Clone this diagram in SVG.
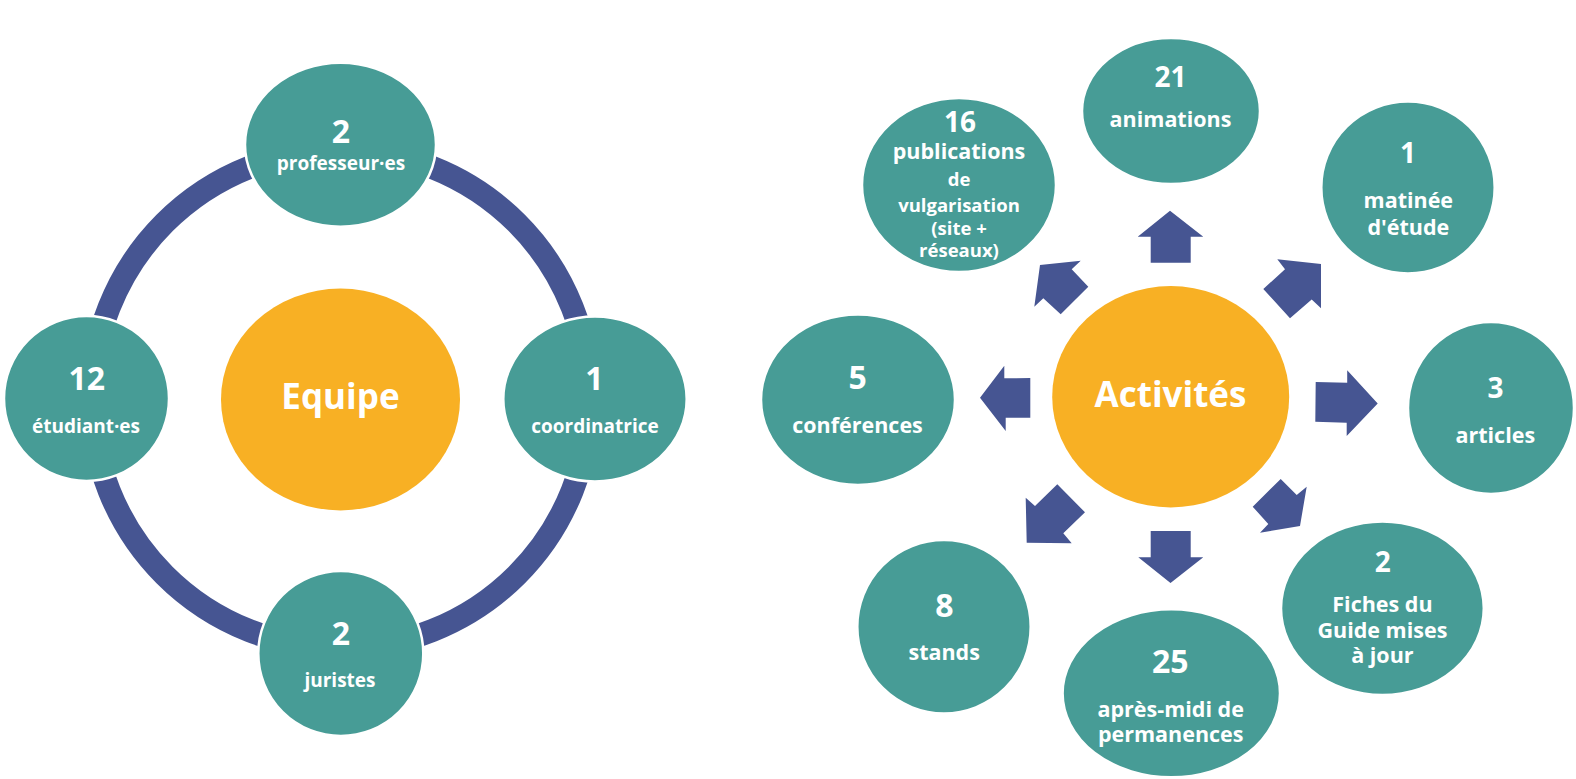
<svg xmlns="http://www.w3.org/2000/svg" width="1576" height="779" viewBox="0 0 1576 779">
<style>
.n{fill:#479C96;stroke:#FFFFFF;stroke-width:2.5}
.c{fill:#F8B024}
.a{fill:#465592}
.ring{fill:none;stroke:#465592;stroke-width:23}
text{font-family:'Open Sans','Liberation Sans',sans-serif;font-weight:700;fill:#FFFFFF;text-anchor:middle}
.num{font-size:32px}
.numS{font-size:28px}
.lbl{font-size:21.5px}
.lblL{font-size:19px}
.sm{font-size:18.5px}
.big{font-size:35px}
</style>
<rect width="1576" height="779" fill="#FFFFFF"/>
<g id="connectors">
<circle class="ring" cx="340.7" cy="399" r="249"/>
<polygon class="a" points="1170,210.7 1203.3,236.7 1190.7,236.7 1190.7,262.7 1150.7,262.7 1150.7,236.7 1137.7,236.7"/>
<polygon class="a" points="1321,264 1321,308.3 1311.7,299.5 1290,318.3 1263.3,289 1285,269.3 1277.3,259.3"/>
<polygon class="a" points="1377.7,403.5 1346.7,436 1346.7,422.7 1315.3,421.7 1315.7,382 1347.2,382.7 1347.2,370.3"/>
<polygon class="a" points="1300,526 1260,532.7 1268.3,524 1252.7,506.7 1280.7,479 1296.7,495 1306.7,486.7"/>
<polygon class="a" points="1170.5,583 1138.3,557.3 1150.7,557.3 1150.7,531 1190.7,531 1190.7,557.3 1203.3,557.3"/>
<polygon class="a" points="1026.7,542.7 1025.7,497.7 1035,506 1057.3,484.3 1085,512.3 1063.3,533.3 1071.7,543.3"/>
<polygon class="a" points="980,397.7 1004.3,365.7 1004.3,378.3 1030.3,378 1030.3,417.7 1005.7,417.7 1005.7,431"/>
<polygon class="a" points="1040,265 1080.7,260.7 1071.7,269.3 1088.3,286.7 1060.7,314.3 1043.3,298.3 1034.3,306.7"/>
</g>
<g id="equipe">
<ellipse class="c" cx="340.5" cy="399.5" rx="119.5" ry="111"/>
<text class="big" x="340.5" y="409">Equipe</text>
</g>
<g id="professeurs">
<ellipse class="n" cx="340.5" cy="144.7" rx="95.5" ry="82"/>
<text class="num" x="340.8" y="143.3">2</text>
<text class="lblL" x="341" y="170">professeur·es</text>
</g>
<g id="etudiants">
<ellipse class="n" cx="86.5" cy="398.5" rx="82.5" ry="82.5"/>
<text class="num" x="86.7" y="390">12</text>
<text class="lblL" x="86" y="432.7">étudiant·es</text>
</g>
<g id="coordinatrice">
<ellipse class="n" cx="595" cy="399" rx="91.7" ry="82.5"/>
<text class="num" x="594.5" y="390">1</text>
<text class="lblL" x="595" y="432.7">coordinatrice</text>
</g>
<g id="juristes">
<ellipse class="n" cx="340.8" cy="653.5" rx="82.5" ry="82.5"/>
<text class="num" x="340.8" y="645">2</text>
<text class="lblL" x="340" y="686.7">juristes</text>
</g>
<g id="activites">
<ellipse class="c" cx="1170.7" cy="396.7" rx="118.5" ry="110.7"/>
<text class="big" x="1170.5" y="407.3">Activités</text>
</g>
<g id="animations">
<ellipse class="n" cx="1171" cy="111" rx="89" ry="73"/>
<text class="numS" x="1170.5" y="86.7">21</text>
<text class="lbl" x="1170.5" y="126.7">animations</text>
</g>
<g id="publications">
<ellipse class="n" cx="959" cy="185" rx="97" ry="87"/>
<text class="numS" x="960" y="131.7">16</text>
<text class="lbl" x="959" y="159.3">publications</text>
<text class="sm" x="959" y="186">de</text>
<text class="sm" x="959" y="211.7">vulgarisation</text>
<text class="sm" x="959" y="235">(site +</text>
<text class="sm" x="959" y="256.7">réseaux)</text>
</g>
<g id="matinee">
<ellipse class="n" cx="1408" cy="187.5" rx="86.7" ry="86"/>
<text class="numS" x="1408" y="163.3">1</text>
<text class="lbl" x="1408.3" y="208.3">matinée</text>
<text class="lbl" x="1408.3" y="235">d'étude</text>
</g>
<g id="articles">
<ellipse class="n" cx="1491" cy="408" rx="83" ry="86"/>
<text class="numS" x="1495.5" y="397.7">3</text>
<text class="lbl" x="1495.3" y="442.7">articles</text>
</g>
<g id="fiches">
<ellipse class="n" cx="1382.4" cy="608.3" rx="101.4" ry="86.7"/>
<text class="numS" x="1382.8" y="571.7">2</text>
<text class="lbl" x="1382.4" y="611.7">Fiches du</text>
<text class="lbl" x="1382.4" y="637.7">Guide mises</text>
<text class="lbl" x="1382.4" y="663.3">à jour</text>
</g>
<g id="permanences">
<ellipse class="n" cx="1171.3" cy="693.3" rx="108.7" ry="84"/>
<text class="num" x="1170.3" y="672.7">25</text>
<text class="lbl" x="1170.7" y="717.3">après-midi de</text>
<text class="lbl" x="1170.7" y="741.7">permanences</text>
</g>
<g id="stands">
<ellipse class="n" cx="944" cy="626.7" rx="86.7" ry="86.7"/>
<text class="num" x="944.3" y="617.3">8</text>
<text class="lbl" x="944.2" y="660">stands</text>
</g>
<g id="conferences">
<ellipse class="n" cx="858" cy="399.7" rx="97" ry="85.3"/>
<text class="num" x="857.7" y="389">5</text>
<text class="lbl" x="857.5" y="433.3">conférences</text>
</g>
</svg>
